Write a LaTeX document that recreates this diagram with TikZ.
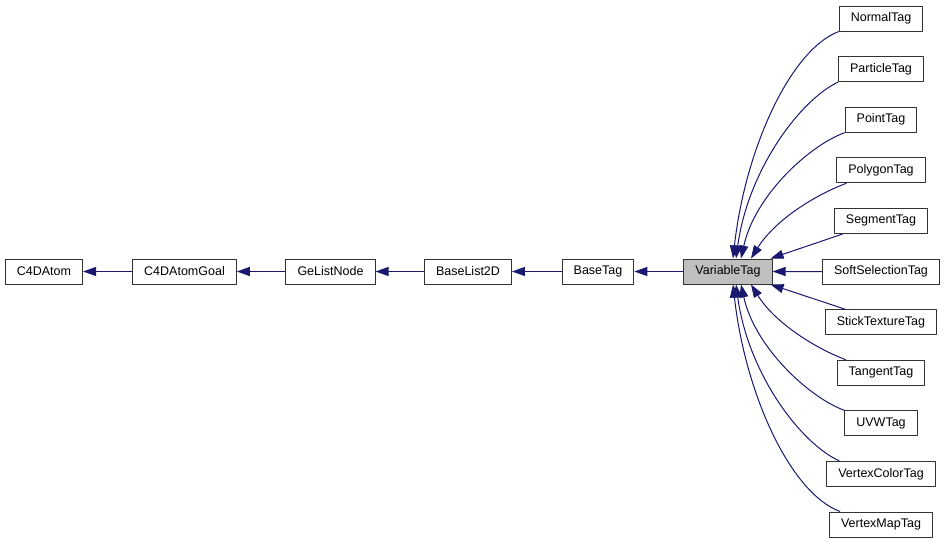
\documentclass[tikz,border=0pt]{standalone}
\usepackage{fontspec}
\setmainfont{Liberation Sans}
\usetikzlibrary{arrows.meta}
\definecolor{edgeblue}{HTML}{191970}
\definecolor{nodegray}{HTML}{BFBFBF}
\begin{document}
\begin{tikzpicture}[x=1pt,y=-1pt,line join=round,>={Triangle[length=13pt,width=9pt]}]
	\tikzset{cls/.style={draw=black!80,fill=white,line width=1pt,minimum height=25pt,inner xsep=11.5pt,inner ysep=0pt,font=\fontsize{12.5}{14}\selectfont},
		inherit/.style={<-,draw=edgeblue,line width=1pt}}
	\useasboundingbox (0,0) rectangle (947,544);
	\node[cls] (atom) at (44,271.5) {C4DAtom};
	\node[cls] (goal) at (184.5,271.5) {C4DAtomGoal};
	\node[cls] (gelist) at (330.5,271.5) {GeListNode};
	\node[cls] (list2d) at (468,271.5) {BaseList2D};
	\node[cls] (basetag) at (598,271.5) {BaseTag};
	\node[cls,fill=nodegray] (vari) at (728,271.5) {VariableTag};
	\foreach \name/\txt [count=\i from 0] in {normal/NormalTag,particle/ParticleTag,point/PointTag,polygon/PolygonTag,segment/SegmentTag,softsel/SoftSelectionTag,stick/StickTextureTag,tangent/TangentTag,uvw/UVWTag,vcolor/VertexColorTag,vmap/VertexMapTag}
	\node[cls] (\name) at (881,{18.5+50.6*\i}) {\txt};
	\draw[inherit] (atom) -- (goal);
	\draw[inherit] (goal) -- (gelist);
	\draw[inherit] (gelist) -- (list2d);
	\draw[inherit] (list2d) -- (basetag);
	\draw[inherit] (basetag) -- (vari);
	\draw[inherit] ([xshift=5pt]vari.north) .. controls (745,150) and (790,50) .. (normal.south west);
	\draw[inherit] ([xshift=8pt]vari.north) .. controls (748,170) and (800,100) .. (particle.south west);
	\draw[inherit] ([xshift=13pt]vari.north) .. controls (755,195) and (810,145) .. (point.south west);
	\draw[inherit] ([xshift=23pt]vari.north) .. controls (775,220) and (815,195) .. ([xshift=10pt]polygon.south west);
	\draw[inherit] ([xshift=-2pt]vari.north east) -- ([xshift=9pt]segment.south west);
	\draw[inherit] (vari) -- (softsel);
	\draw[inherit] ([xshift=-2pt]vari.south east) -- ([xshift=20pt]stick.north west);
	\draw[inherit] ([xshift=23pt]vari.south) .. controls (775,323) and (815,348) .. ([xshift=9pt]tangent.north west);
	\draw[inherit] ([xshift=13pt]vari.south) .. controls (755,348) and (810,398) .. (uvw.north west);
	\draw[inherit] ([xshift=8pt]vari.south) .. controls (748,373) and (800,443) .. ([xshift=13pt]vcolor.north west);
	\draw[inherit] ([xshift=5pt]vari.south) .. controls (745,393) and (790,493) .. ([xshift=11pt]vmap.north west);
\end{tikzpicture}
\end{document}
